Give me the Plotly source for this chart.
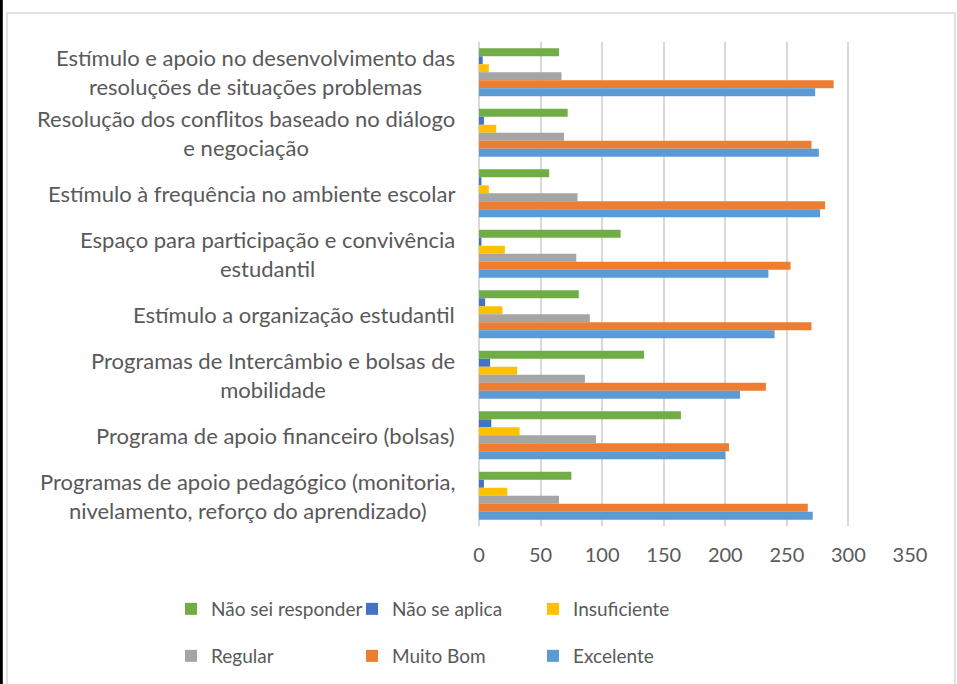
import plotly.graph_objects as go

categories = [
    "Estímulo e apoio no desenvolvimento das<br>resoluções de situações problemas",
    "Resolução dos conflitos baseado no diálogo<br>e negociação",
    "Estímulo à frequência no ambiente escolar",
    "Espaço para participação e convivência<br>estudantil",
    "Estímulo a organização estudantil",
    "Programas de Intercâmbio e bolsas de<br>mobilidade",
    "Programa de apoio financeiro (bolsas)",
    "Programas de apoio pedagógico (monitoria,<br>nivelamento, reforço do aprendizado)",
]
nao_sei = [65, 72, 57, 115, 81, 134, 164, 75]
nao_aplica = [3, 4, 2, 2, 5, 9, 10, 4]
insuficiente = [8, 14, 8, 21, 19, 31, 33, 23]
regular = [67, 69, 80, 79, 90, 86, 95, 65]
muito_bom = [288, 270, 281, 253, 270, 233, 203, 267]
excelente = [273, 276, 277, 235, 240, 212, 200, 271]

series_names = ["Não sei responder", "Não se aplica", "Insuficiente",
                "Regular", "Muito Bom", "Excelente"]
series_values = [nao_sei, nao_aplica, insuficiente, regular, muito_bom, excelente]
colors = ["#70AD47", "#4472C4", "#FFC000", "#A5A5A5", "#ED7D31", "#5B9BD5"]
x_ticks = [0, 50, 100, 150, 200, 250, 300, 350]

FONT = "Lato"
TXT = "#595959"
W, H = 957, 684
ML, MR, MT, MB = 479, 47, 42, 158
PW = W - ML - MR
PH = H - MT - MB

def px_x(p):
    return (p - ML) / PW

def px_y(p):
    return (H - MB - p) / PH

fig = go.Figure()
for i, (name, vals, col) in enumerate(zip(series_names, series_values, colors)):
    fig.add_trace(go.Bar(
        y=categories, x=vals, name=name, orientation="h",
        marker=dict(color=col, line=dict(width=0)),
        legend="legend" if i < 3 else "legend2",
    ))

annotations = []
for c in categories:
    annotations.append(dict(
        x=px_x(457), xref="paper", y=c, yref="y", text=c, showarrow=False,
        xanchor="right", yanchor="middle", align="center",
        font=dict(family=FONT, size=22, color=TXT),
    ))

shapes = [
    dict(type="rect", xref="paper", yref="paper",
         x0=px_x(7), x1=px_x(955), y0=px_y(13), y1=px_y(720),
         line=dict(color="#d9d9d9", width=1.5), fillcolor="rgba(0,0,0,0)", layer="below"),
    dict(type="rect", xref="paper", yref="paper",
         x0=px_x(0), x1=px_x(2.8), y0=px_y(-5), y1=px_y(690),
         line=dict(width=0), fillcolor="#000000"),
]

legend_common = dict(
    orientation="h", xanchor="left", yanchor="middle",
    entrywidth=136, entrywidthmode="pixels",
    font=dict(family=FONT, size=19, color=TXT),
    bgcolor="rgba(0,0,0,0)", traceorder="normal",
)

fig.update_layout(
    width=W, height=H,
    margin=dict(l=ML, r=MR, t=MT, b=MB, autoexpand=False),
    paper_bgcolor="white", plot_bgcolor="white",
    barmode="group", bargap=0.21, bargroupgap=0,
    xaxis=dict(range=[0, 350], tickvals=x_ticks, showgrid=True,
               gridcolor="#d9d9d9", gridwidth=2, zeroline=True,
               zerolinecolor="#d9d9d9", zerolinewidth=2,
               ticks="outside", ticklen=11, tickcolor="rgba(0,0,0,0)",
               tickfont=dict(family=FONT, size=20, color=TXT),
               showline=False, fixedrange=True),
    yaxis=dict(autorange="reversed", showticklabels=False, showgrid=False,
               zeroline=False, showline=False, ticks=""),
    legend=dict(legend_common, x=px_x(171), y=px_y(609)),
    legend2=dict(legend_common, x=px_x(171), y=px_y(656)),
    annotations=annotations,
    shapes=shapes,
    showlegend=True,
)

fig.write_html("out.html", config={"displayModeBar": False},
               post_script="document.body.style.margin='0';document.body.style.overflow='hidden';")
